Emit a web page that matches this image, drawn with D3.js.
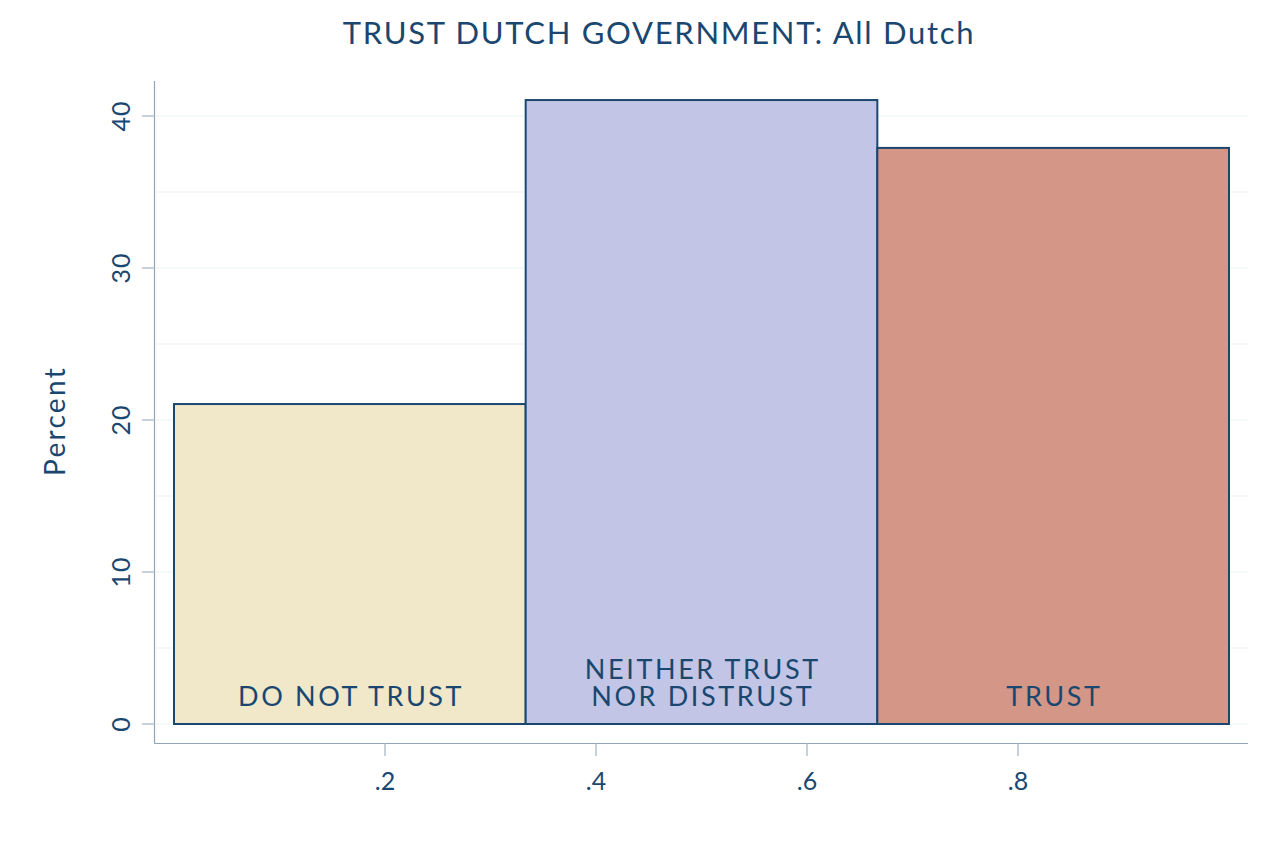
<!DOCTYPE html>
<html><head><meta charset="utf-8">
<script src="https://cdn.jsdelivr.net/npm/d3@7"></script>
<style>body{margin:0;background:#fff;} svg{display:block;}</style>
</head><body>
<svg id="chart" width="1280" height="842"></svg>
<script>
const title = "TRUST DUTCH GOVERNMENT: All Dutch";
const yTitle = "Percent";
const categories = [["DO NOT TRUST"], ["NEITHER TRUST", "NOR DISTRUST"], ["TRUST"]];
const binStarts = [0, 1/3, 2/3];
const binEnds = [1/3, 2/3, 1];
const percents = [21.05, 41.05, 37.9];
const colors = ["#f1e7c9", "#c2c5e5", "#d49686"];
const yTicks = [0, 10, 20, 30, 40];
const yGrid = [0, 5, 10, 15, 20, 25, 30, 35, 40];
const xTicks = [0.2, 0.4, 0.6, 0.8];
const xTickLabels = [".2", ".4", ".6", ".8"];

const navy = "#1a476f";
const font = "Lato, 'Open Sans', sans-serif";
const svg = d3.select("#chart");
const x = d3.scaleLinear().domain([0, 1]).range([174, 1229]);
const y = d3.scaleLinear().domain([0, 40]).range([724, 116]);
const axisX = 154.5, axisY = 743.5, plotRight = 1248, plotTop = 81;

// gridlines
svg.append("g").selectAll("line").data(yGrid).join("line")
  .attr("x1", axisX + 1).attr("x2", plotRight)
  .attr("y1", d => y(d)).attr("y2", d => y(d))
  .attr("stroke", "#eef3f4").attr("stroke-width", 1.2);

// bars
const bars = binStarts.map((s, i) => ({s, e: binEnds[i], v: percents[i], c: colors[i], lab: categories[i]}));
svg.append("g").selectAll("rect").data(bars).join("rect")
  .attr("x", d => x(d.s)).attr("y", d => y(d.v))
  .attr("width", d => x(d.e) - x(d.s)).attr("height", d => y(0) - y(d.v))
  .attr("fill", d => d.c).attr("stroke", navy).attr("stroke-width", 2);

// bar labels
const lg = svg.append("g");
bars.forEach(d => {
  const cx = (x(d.s) + x(d.e)) / 2 + 1.3;
  const n = d.lab.length;
  const t = lg.append("text").attr("text-anchor", "middle").attr("font-family", font)
    .attr("font-size", 27).attr("letter-spacing", 2.6).attr("fill", navy);
  d.lab.forEach((s, j) => {
    t.append("tspan").attr("x", cx).attr("y", 706 - (n - 1 - j) * 27).text(s);
  });
});

// axes
svg.append("line").attr("x1", axisX).attr("x2", axisX).attr("y1", plotTop).attr("y2", axisY)
  .attr("stroke", "#91a4b8").attr("stroke-width", 1.2);
svg.append("line").attr("x1", axisX).attr("x2", plotRight).attr("y1", axisY).attr("y2", axisY)
  .attr("stroke", "#91a4b8").attr("stroke-width", 1.2);

// y ticks
const yt = svg.append("g").selectAll("g").data(yTicks).join("g");
yt.append("line").attr("x1", 142).attr("x2", axisX).attr("y1", d => y(d)).attr("y2", d => y(d))
  .attr("stroke", "#b5c2ce").attr("stroke-width", 1.5);
yt.append("text").attr("transform", d => `translate(130,${y(d)}) rotate(-90)`)
  .attr("text-anchor", "middle").attr("font-family", font).attr("font-size", 25)
  .attr("letter-spacing", 1).attr("fill", navy).text(d => d);

// x ticks
const xt = svg.append("g").selectAll("g").data(xTicks).join("g");
xt.append("line").attr("x1", d => x(d)).attr("x2", d => x(d)).attr("y1", axisY).attr("y2", 756)
  .attr("stroke", "#b5c2ce").attr("stroke-width", 1.5);
xt.append("text").attr("x", d => x(d)).attr("y", 790)
  .attr("text-anchor", "middle").attr("font-family", font).attr("font-size", 25)
  .attr("fill", navy).text((d, i) => xTickLabels[i]);

// y title
svg.append("text").attr("transform", "translate(65,421) rotate(-90)")
  .attr("text-anchor", "middle").attr("font-family", font).attr("font-size", 28)
  .attr("letter-spacing", 2.3).attr("fill", navy).text(yTitle);

// title
svg.append("text").attr("x", 659).attr("y", 44).attr("text-anchor", "middle")
  .attr("font-family", font).attr("font-size", 31).attr("letter-spacing", 1.7)
  .attr("fill", navy).text(title);
</script>
</body></html>
